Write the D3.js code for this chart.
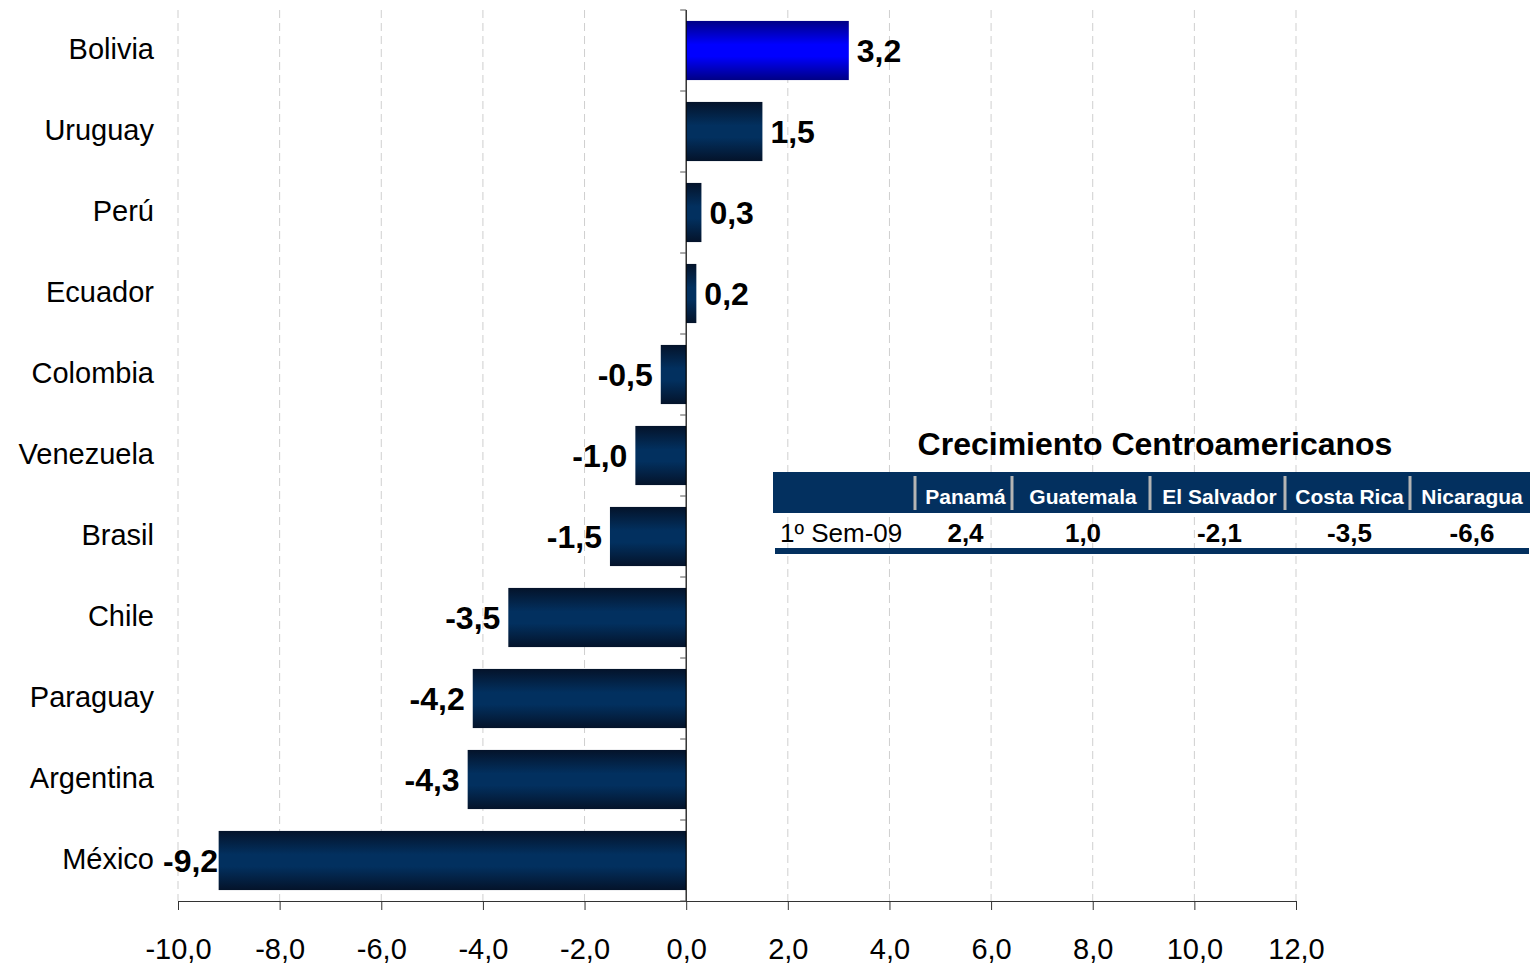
<!DOCTYPE html>
<html>
<head>
<meta charset="utf-8">
<script src="https://cdn.jsdelivr.net/npm/d3@7"></script>
<style>
  body { margin: 0; background: #fff; }
  svg { display: block; font-family: "Liberation Sans", Arial, sans-serif; }
</style>
</head>
<body>
<div id="chart"></div>
<script>
// countries and growth values (top to bottom)
const countries = ["Bolivia", "Uruguay", "Perú", "Ecuador", "Colombia", "Venezuela",
                   "Brasil", "Chile", "Paraguay", "Argentina", "México"];
const growth = [3.2, 1.5, 0.3, 0.2, -0.5, -1.0, -1.5, -3.5, -4.2, -4.3, -9.2];
const xTicks = [-10, -8, -6, -4, -2, 0, 2, 4, 6, 8, 10, 12];
const highlight = "Bolivia";

// inset table
const tableTitle = "Crecimiento Centroamericanos";
const tableRowLabel = "1º Sem-09";
const tableCountries = ["Panamá", "Guatemala", "El Salvador", "Costa Rica", "Nicaragua"];
const tableValues = [2.4, 1.0, -2.1, -3.5, -6.6];

const W = 1531, H = 966;
const margin = {top: 10, left: 178, right: 235, bottom: 65};
const labelRight = 154;   // right edge of category labels
const fmt = v => d3.format(".1f")(v).replace(".", ",").replace("−", "-");

const svg = d3.select("#chart").append("svg")
    .attr("width", W).attr("height", H);

// gradients for the bars
const defs = svg.append("defs");
function grad(id, edge, mid) {
    const g = defs.append("linearGradient").attr("id", id)
        .attr("x1", 0).attr("y1", 0).attr("x2", 0).attr("y2", 1);
    [[0, edge], [0.4, mid], [0.6, mid], [1, edge]].forEach(s =>
        g.append("stop").attr("offset", s[0]).attr("stop-color", s[1]));
}
grad("barDark", "#04132a", "#02305f");
grad("barBlue", "#000085", "#0000ff");

const x = d3.scaleLinear().domain([-10, 12]).range([margin.left, W - margin.right]);
const y = d3.scaleBand().domain(countries).range([margin.top, H - margin.bottom])
    .paddingInner(0.27).paddingOuter(0.135);
const step = y.step();

// grid lines
svg.append("g").selectAll("line")
    .data(xTicks.filter(d => d !== 0))
    .join("line")
    .attr("x1", d => x(d)).attr("x2", d => x(d))
    .attr("y1", margin.top).attr("y2", H - margin.bottom)
    .attr("stroke", "#cfcfcf").attr("stroke-width", 1)
    .attr("stroke-dasharray", "8,5");

// bars
svg.append("g").selectAll("rect")
    .data(countries)
    .join("rect")
    .attr("x", (d, i) => x(Math.min(0, growth[i])))
    .attr("width", (d, i) => Math.abs(x(growth[i]) - x(0)))
    .attr("y", d => y(d))
    .attr("height", y.bandwidth())
    .attr("fill", d => d === highlight ? "url(#barBlue)" : "url(#barDark)");

// value labels
const vals = svg.append("g").selectAll("text")
    .data(countries)
    .join("text")
    .attr("x", (d, i) => growth[i] >= 0 ? x(growth[i]) + 8 : x(growth[i]) - 8)
    .attr("y", d => y(d) + y.bandwidth() / 2)
    .attr("dy", "0.36em")
    .attr("text-anchor", (d, i) => growth[i] >= 0 ? "start" : "end")
    .attr("font-size", 32).attr("font-weight", "bold")
    .attr("fill", "#000")
    .text((d, i) => fmt(growth[i]));
// keep negative labels clear of the category names
vals.each(function(d, i) {
    if (growth[i] >= 0) return;
    const el = d3.select(this);
    const w = this.getComputedTextLength();
    const xr = +el.attr("x");
    if (xr - w < labelRight + 9) el.attr("x", labelRight + 9 + w);
});

// x axis
const xAxis = svg.append("g")
    .attr("transform", `translate(0,${H - margin.bottom})`)
    .call(d3.axisBottom(x).tickValues(xTicks).tickSize(9).tickSizeOuter(0).tickPadding(28).tickFormat(fmt));
xAxis.select(".domain").attr("stroke", "#333");
xAxis.selectAll(".tick line").attr("stroke", "#333");
xAxis.selectAll("text").attr("font-size", 29).attr("fill", "#000")
    .attr("font-family", "Liberation Sans, Arial, sans-serif");

// y axis at zero with ticks between bands
const yLine = svg.append("g");
yLine.append("line")
    .attr("x1", x(0)).attr("x2", x(0))
    .attr("y1", margin.top).attr("y2", H - margin.bottom)
    .attr("stroke", "#000").attr("stroke-width", 1.2);
yLine.selectAll("line.sep")
    .data(d3.range(countries.length + 1))
    .join("line").attr("class", "sep")
    .attr("x1", x(0) - 6).attr("x2", x(0))
    .attr("y1", i => margin.top + i * step).attr("y2", i => margin.top + i * step)
    .attr("stroke", "#555");

// category labels
svg.append("g").selectAll("text")
    .data(countries)
    .join("text")
    .attr("x", labelRight)
    .attr("y", d => y(d) + y.bandwidth() / 2 - 2)
    .attr("dy", "0.36em")
    .attr("text-anchor", "end")
    .attr("font-size", 29).attr("fill", "#000")
    .text(d => d);

// inset table
const colEdges = [915, 1012, 1150, 1285, 1410, 1530];
const tbl = svg.append("g");
tbl.append("text")
    .attr("x", 1155).attr("y", 455)
    .attr("text-anchor", "middle")
    .attr("font-size", 32).attr("font-weight", "bold")
    .text(tableTitle);
tbl.append("rect")
    .attr("x", 773).attr("y", 472).attr("width", 1530 - 773).attr("height", 41)
    .attr("fill", "#03305f");
tbl.selectAll("line.col")
    .data(colEdges.slice(0, -1))
    .join("line").attr("class", "col")
    .attr("x1", d => d).attr("x2", d => d)
    .attr("y1", 476).attr("y2", 510)
    .attr("stroke", "#b4b4b4").attr("stroke-width", 3);
tbl.selectAll("text.head")
    .data(tableCountries)
    .join("text").attr("class", "head")
    .attr("x", (d, i) => (colEdges[i] + colEdges[i + 1]) / 2 + 2)
    .attr("y", 504)
    .attr("text-anchor", "middle")
    .attr("font-size", 21).attr("font-weight", "bold").attr("fill", "#fff")
    .text(d => d);
tbl.append("text")
    .attr("x", 780).attr("y", 542)
    .attr("font-size", 26)
    .text(tableRowLabel);
tbl.selectAll("text.val")
    .data(tableValues)
    .join("text").attr("class", "val")
    .attr("x", (d, i) => (colEdges[i] + colEdges[i + 1]) / 2 + 2)
    .attr("y", 542)
    .attr("text-anchor", "middle")
    .attr("font-size", 26).attr("font-weight", "bold")
    .text(d => fmt(d));
tbl.append("rect")
    .attr("x", 775).attr("y", 548).attr("width", 1529 - 775).attr("height", 6)
    .attr("fill", "#03305f");
</script>
</body>
</html>
